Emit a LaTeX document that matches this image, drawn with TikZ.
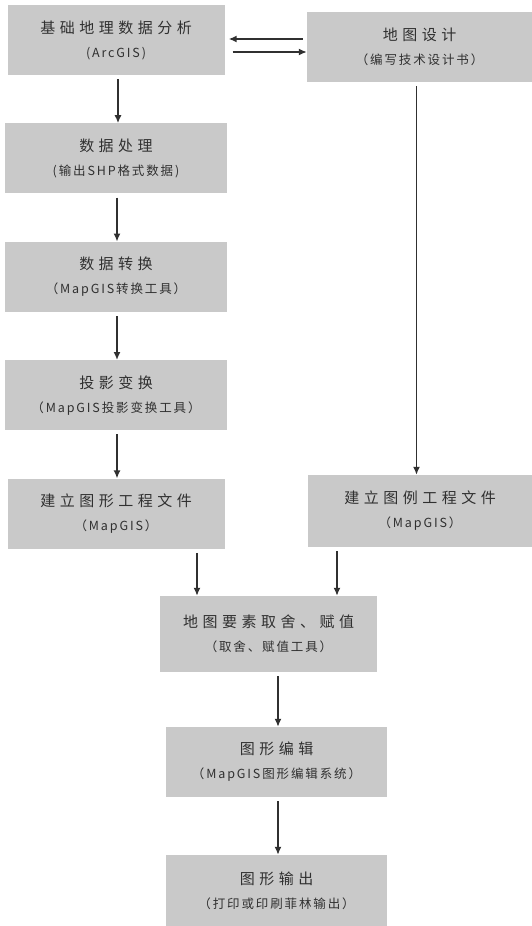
\documentclass[tikz,border=0pt]{standalone}
\usepackage{fontspec}
\setmainfont{Noto Sans CJK SC}
\usetikzlibrary{positioning,arrows.meta}
\definecolor{boxgray}{RGB}{201,201,201}
\definecolor{inkgray}{RGB}{48,48,48}
\newcommand\boxtitle[1]{{\fontsize{15}{18}\selectfont\addfontfeature{LetterSpace=30}#1}}
\newcommand\boxnote[1]{{\fontsize{12.5}{15}\selectfont\addfontfeature{LetterSpace=15}#1}}

\begin{document}
\begin{tikzpicture}[x=1pt, y=-1pt, node distance=48pt, every node/.style={text=inkgray}]
  \tikzset{
    proc/.style={fill=boxgray, minimum width=217pt, minimum height=70pt, align=center, inner sep=0pt},
    arr/.style={-{Latex[length=8pt,width=7pt]}, line width=1.5pt, draw=inkgray, shorten <=4pt}
  }
  \useasboundingbox (0,0) rectangle (532,926);
  % left column
  \node[proc] (base) at (116,40) {\boxtitle{基础地理数据分析}\\[12pt]\boxnote{(ArcGIS)}};
  \node[proc, minimum width=222pt, below=of base] (clean) {\boxtitle{数据处理}\\[12pt]\boxnote{(输出SHP格式数据)}};
  \node[proc, minimum width=222pt, below=of clean] (conv) {\boxtitle{数据转换}\\[12pt]\boxnote{（MapGIS转换工具）}};
  \node[proc, minimum width=222pt, below=of conv] (proj) {\boxtitle{投影变换}\\[12pt]\boxnote{（MapGIS投影变换工具）}};
  \node[proc, below=of proj] (gfx) {\boxtitle{建立图形工程文件}\\[12pt]\boxnote{（MapGIS）}};
  % right column
  \node[proc, minimum width=225pt] (design) at (419.5,47) {\boxtitle{地图设计}\\[12pt]\boxnote{（编写技术设计书）}};
  \node[proc, minimum width=224pt, minimum height=72pt] (legend) at (420,511) {\boxtitle{建立图例工程文件}\\[12pt]\boxnote{（MapGIS）}};
  % lower chain
  \node[proc, minimum height=76pt] (select) at (268.5,634) {\boxtitle{地图要素取舍、赋值}\\[12pt]\boxnote{（取舍、赋值工具）}};
  \node[proc, minimum width=221pt] (edit) at (276.5,762) {\boxtitle{图形编辑}\\[12pt]\boxnote{（MapGIS图形编辑系统）}};
  \node[proc, minimum width=221pt, minimum height=71pt] (output) at (276.5,890.5) {\boxtitle{图形输出}\\[12pt]\boxnote{（打印或印刷菲林输出）}};

  \draw[arr] ([yshift=8pt]design.west) -- ([xshift=4pt,yshift=8pt]design.west -| base.east);
  \draw[arr] ([xshift=4pt,yshift=-5pt]design.west -| base.east) -- ([yshift=-5pt]design.west);
  \draw[arr] ([xshift=2pt]base.south) -- ([xshift=2pt]clean.north);
  \draw[arr] ([xshift=1pt]clean.south) -- ([xshift=1pt]conv.north);
  \draw[arr] ([xshift=1pt]conv.south) -- ([xshift=1pt]proj.north);
  \draw[arr] ([xshift=1pt]proj.south) -- ([xshift=1pt]proj.south |- gfx.north);
  \draw[arr] ([xshift=-3pt]design.south) -- ([xshift=-3pt]design.south |- legend.north);
  \draw[arr] ([xshift=81pt]gfx.south) -- ([xshift=81pt]gfx.south |- select.north);
  \draw[arr] ([xshift=-83pt]legend.south) -- ([xshift=-83pt]legend.south |- select.north);
  \draw[arr] ([xshift=1.5pt]edit.north |- select.south) -- ([xshift=1.5pt]edit.north);
  \draw[arr] ([xshift=1.5pt]edit.south) -- ([xshift=1.5pt]edit.south |- output.north);
\end{tikzpicture}
\end{document}
